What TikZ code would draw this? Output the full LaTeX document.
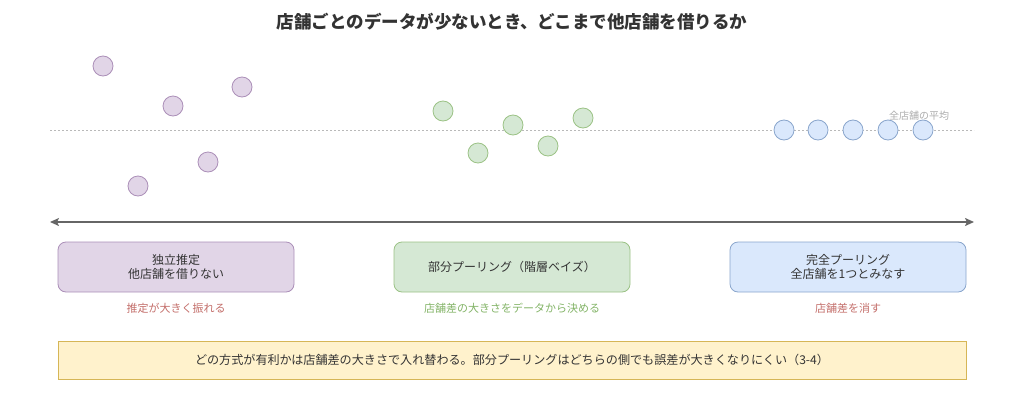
\documentclass[tikz,border=0pt]{standalone}
\usepackage{fontspec}
\setmainfont{Noto Sans CJK JP}
\usetikzlibrary{arrows.meta}
\definecolor{pfill}{HTML}{E1D5E7}\definecolor{pdraw}{HTML}{9673A6}
\definecolor{gfill}{HTML}{D5E8D4}\definecolor{gdraw}{HTML}{82B366}
\definecolor{bfill}{HTML}{DAE8FC}\definecolor{bdraw}{HTML}{6C8EBF}
\definecolor{yfill}{HTML}{FFF2CC}\definecolor{ydraw}{HTML}{D6B656}
\definecolor{redtxt}{HTML}{B85450}
\definecolor{txt}{HTML}{333333}
\tikzset{
  dot/.style={circle,minimum size=20pt,inner sep=0pt,line width=0.8pt},
  pc/.style={dot,fill=pfill,draw=pdraw!80},
  gc/.style={dot,fill=gfill,draw=gdraw!80},
  bc/.style={dot,fill=bfill,draw=bdraw!80},
  method/.style={rounded corners=8pt,minimum width=236pt,minimum height=50pt,line width=0.8pt,
    align=center,font=\fontsize{12pt}{14pt}\selectfont,text=txt},
  note/.style={font=\fontsize{11pt}{13pt}\selectfont},
}
\begin{document}
\begin{tikzpicture}[x=1pt,y=-1pt]
\useasboundingbox (0,0) rectangle (1024,407);
\node[font=\bfseries\fontsize{17.5pt}{20pt}\selectfont,text=txt] (title) at (512,22) {店舗ごとのデータが少ないとき、どこまで他店舗を借りるか};
% mean line
\coordinate (mL) at (50,130);
\coordinate (mR) at (974,130);
\draw[gray!55,line width=0.8pt,dash pattern=on 2pt off 2pt] (mL) -- (mR);
\node[font=\fontsize{10pt}{12pt}\selectfont,text=gray!65] (meanlbl) at (919,116) {全店舗の平均};
% purple dots
\node[pc] (p1) at (103,66) {};
\node[pc] (p2) at (173,106) {};
\node[pc] (p3) at (242,87) {};
\node[pc] (p4) at (208,162) {};
\node[pc] (p5) at (138,186) {};
% green dots
\node[gc] (g1) at (443,111) {};
\node[gc] (g2) at (478,153) {};
\node[gc] (g3) at (513,125) {};
\node[gc] (g4) at (548,146) {};
\node[gc] (g5) at (583,118) {};
% blue dots
\node[bc] (b1) at (784,130) {};
\node[bc] (b2) at (818,130) {};
\node[bc] (b3) at (853,130) {};
\node[bc] (b4) at (888,130) {};
\node[bc] (b5) at (923,130) {};
% axis arrow
\coordinate (aL) at (50,222);
\coordinate (aR) at (974,222);
\draw[black!60,line width=1.5pt,{Stealth[length=9pt,width=8pt,inset=2pt]}-{Stealth[length=9pt,width=8pt,inset=2pt]}] (aL) -- (aR);
% method boxes
\node[method,fill=pfill,draw=pdraw!80] (m1) at (176,267) {独立推定\\他店舗を借りない};
\node[method,fill=gfill,draw=gdraw!80] (m2) at (512,267) {部分プーリング（階層ベイズ）};
\node[method,fill=bfill,draw=bdraw!80] (m3) at (848,267) {完全プーリング\\全店舗を1つとみなす};
\node[note,text=redtxt!85] (n1) at (176,308) {推定が大きく振れる};
\node[note,text=gdraw] (n2) at (512,308) {店舗差の大きさをデータから決める};
\node[note,text=redtxt!85] (n3) at (848,308) {店舗差を消す};
% summary
\node[fill=yfill,draw=ydraw,line width=0.8pt,minimum width=908pt,minimum height=38pt,
  font=\fontsize{12.1pt}{14pt}\selectfont,text=txt] (sum) at (512,360)
  {どの方式が有利かは店舗差の大きさで入れ替わる。部分プーリングはどちらの側でも誤差が大きくなりにくい（3-4）};
\end{tikzpicture}
\end{document}
